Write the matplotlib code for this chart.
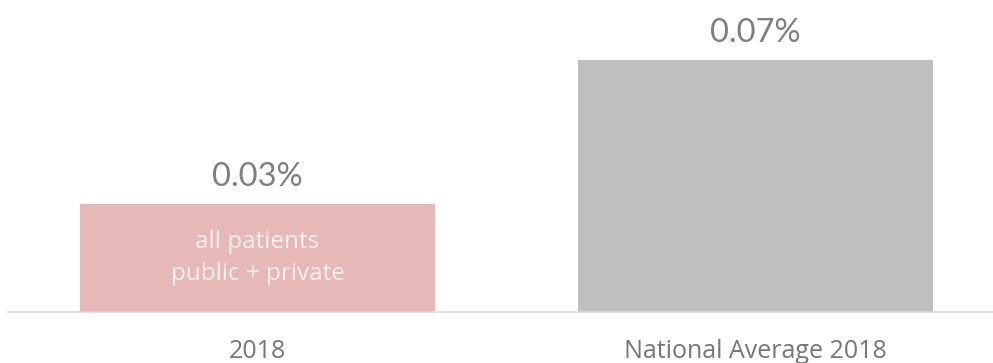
import matplotlib.pyplot as plt

# bar data
categories = ['2018', 'National Average 2018']
values = [0.03, 0.07]
value_labels = ['0.03%', '0.07%']
bar_colors = ['#E6B8B7', '#BFBFBF']
inner_note = 'all patients\npublic + private'

fig = plt.figure(figsize=(9.93, 3.63), dpi=100)
ax = fig.add_axes([8 / 993, 51 / 363, 1 - 8 / 993, 312 / 363])

x = range(len(categories))
bars = ax.bar(x, values, width=0.713, color=bar_colors)

ax.set_xlim(-0.501, 1.477)
ax.set_ylim(0, 0.07 * 312 / 252)

# value labels above the bars
for b, lab in zip(bars, value_labels):
    ax.annotate(lab, (b.get_x() + b.get_width() / 2, b.get_height()),
                xytext=(0, 9), textcoords='offset points',
                ha='center', va='bottom', fontsize=23.5, color='#7F7F7F',
                family='Lato')

# note inside the first bar
ax.text(0, values[0] / 2, inner_note, ha='center', va='center',
        fontsize=17.5, color='#FBF1F1', family='Open Sans', linespacing=1.43)

ax.set_xticks(list(x))
ax.set_xticklabels(categories, fontsize=18, color='#767676', family='Open Sans')
ax.tick_params(axis='x', length=0, pad=19.5)
ax.set_yticks([])

for s in ['top', 'left', 'right']:
    ax.spines[s].set_visible(False)
ax.spines['bottom'].set_color('#D9D9D9')
ax.spines['bottom'].set_linewidth(1.2)

fig.savefig('out.png', dpi=100)
